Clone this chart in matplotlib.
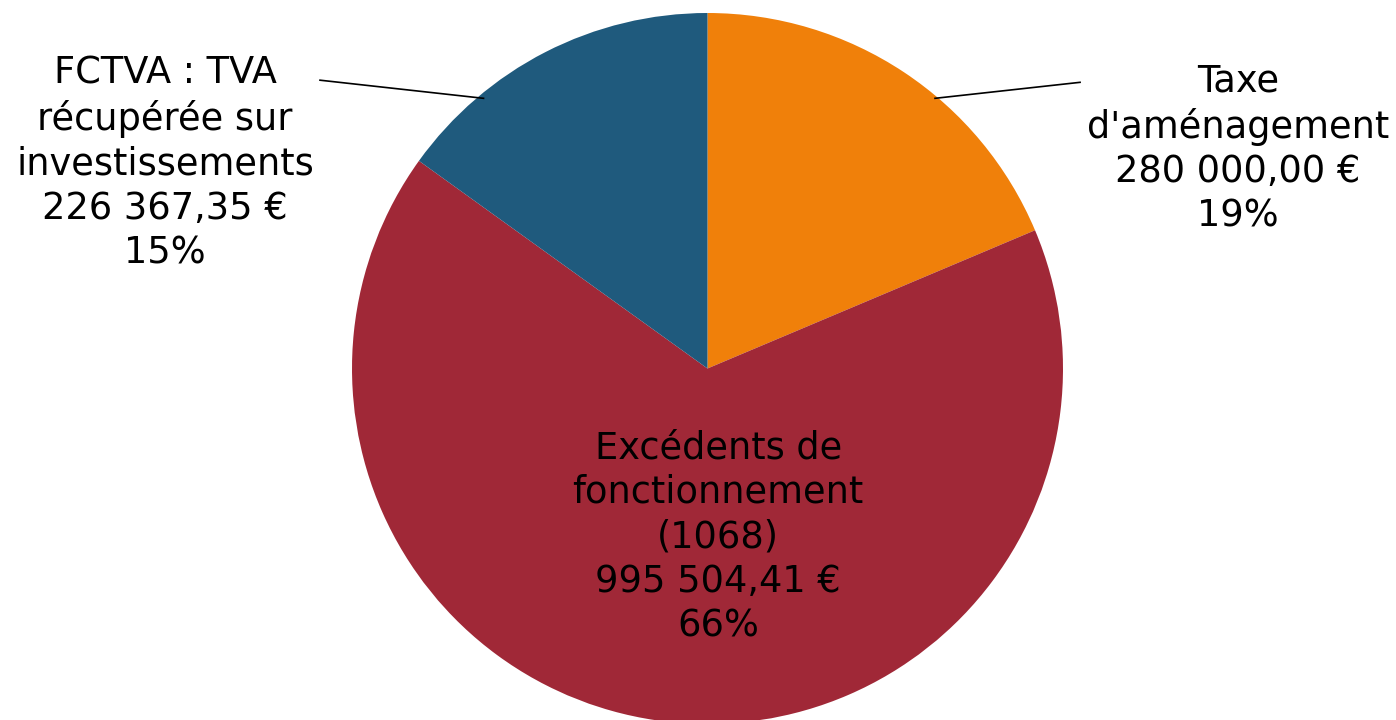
import matplotlib
matplotlib.use("Agg")
import matplotlib.pyplot as plt

categories = ["Taxe\nd'aménagement", "Excédents de\nfonctionnement\n(1068)", "FCTVA : TVA\nrécupérée sur\ninvestissements"]
values = [280000.00, 995504.41, 226367.35]
value_labels = ["280 000,00 €", "995 504,41 €", "226 367,35 €"]
colors = ["#F0800A", "#A02837", "#1F5A7D"]

W, H = 1396, 720
fig = plt.figure(figsize=(W / 100, H / 100), dpi=100)
cx, cy, r = 707.5, 368.5, 355.5
ax = fig.add_axes([(cx - r) / W, (H - cy - r) / H, 2 * r / W, 2 * r / H])
ax.pie(values, colors=colors, startangle=90, counterclock=False, radius=1,
       wedgeprops=dict(linewidth=0))
ax.set_xlim(-1, 1)
ax.set_ylim(-1, 1)
ax.set_aspect("equal")
ax.axis("off")

total = sum(values)
pcts = [f"{round(v / total * 100)}%" for v in values]
label_pos = [(1.492, 0.618), (0.03, -0.474), (-1.526, 0.578)]
for cat, vl, p, (x, y) in zip(categories, value_labels, pcts, label_pos):
    ax.text(x, y, f"{cat}\n{vl}\n{p}", ha="center", va="center", fontsize=26.5,
            family="DejaVu Sans", color="black", linespacing=1.26, clip_on=False)

ax.plot([0.64, 1.048], [0.76, 0.805], color="black", lw=1.2, clip_on=False)
ax.plot([-0.63, -1.09], [0.76, 0.811], color="black", lw=1.2, clip_on=False)

fig.savefig("out.png", dpi=100)
